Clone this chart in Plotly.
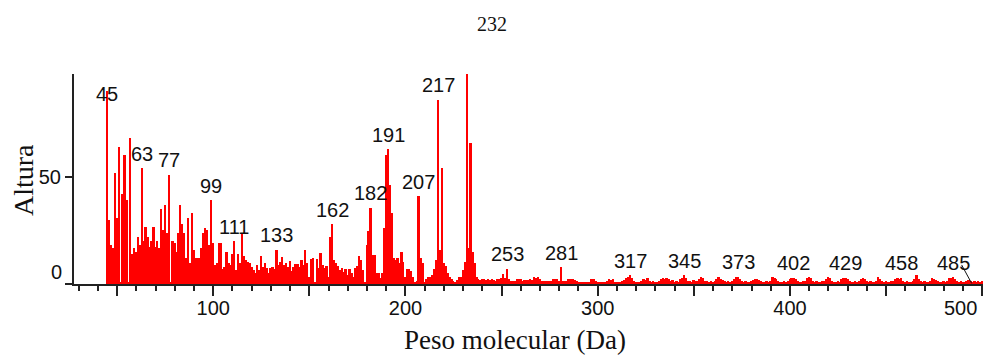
import plotly.graph_objects as go

# Mass spectrum: intensity ("Altura") per integer m/z, 45..500 Da
mz_start = 45

heights_045_099 = [
    90, 30, 18, 17, 52, 31, 64, 0.5, 42, 60,        # 45-54
    39, 0.5, 68, 14, 17, 15, 22, 18, 54, 20,        # 55-64
    26.7, 22, 17.5, 20, 26.7, 17.5, 20, 16.7, 35, 25,  # 65-74
    37, 23.6, 51, 0.5, 20, 19, 15, 24, 37, 28,      # 75-84
    24, 12, 31, 10, 33, 16, 12, 12, 12, 17,         # 85-94
    24, 26, 25, 18, 39,                             # 95-99
]
heights_100_149 = [
    19, 9, 10, 19, 19, 7, 8, 15, 10, 9,
    14, 20, 6.5, 14, 10, 24, 13, 11, 10.5, 10,
    8, 6.5, 5, 9, 6.5, 13, 8, 10, 7.3, 5,
    7.3, 8, 7, 16, 9, 10.5, 12.5, 9, 10, 8,
    10.8, 6.3, 8, 9.3, 9.3, 8, 11.3, 9, 16, 9.8,
]
heights_150_199 = [
    3.5, 11.5, 12, 0.5, 11.5, 7.3, 14.3, 9, 7.3, 8.2,
    3.5, 22, 28, 11, 9.8, 8.2, 6.6, 7.4, 5.8, 6.9,
    4.2, 6.9, 5, 3.5, 7.4, 8.2, 12.9, 11.3, 6.6, 0.5,
    18.4, 24.7, 35.5, 13.7, 13.7, 5, 5, 2.6, 5, 26,
    60, 63, 46, 33, 12, 11, 12, 10, 15, 10.5,
]
heights_200_249 = [
    3.5, 6.9, 6.9, 6.3, 3.1, 1.1, 1.5, 41, 12, 9.8,
    1.1, 2.2, 3.1, 3.5, 4.2, 6.9, 11, 86, 16, 54,
    9.8, 8.2, 5, 3.5, 2.2, 1.6, 1.1, 1.9, 3.1, 3.1,
    6.6, 10.5, 98, 17, 66, 15, 9.8, 3.5, 2.5, 2,
    2.4, 2.2, 2, 2.4, 1.8, 2.2, 2, 1.6, 2.4, 2.2,
]
heights_250_299 = [
    3, 4.6, 3, 7.2, 2.5, 1.6, 1.4, 1.6, 2.4, 2.4,
    2.2, 1.6, 2, 2, 1.8, 2.2, 2, 3.1, 2.8, 3.1,
    2.4, 1.2, 1.4, 1.2, 1.4, 1.2, 1.5, 2.4, 2.2, 2.4,
    1.6, 7.8, 1.5, 1.2, 1.6, 2.4, 2.2, 2.4, 2.0, 1.2,
    0.8, 1.0, 0.8, 1.0, 0.8, 0.9, 1.0, 2.4, 2.2, 1.2,
]
heights_300_349 = [
    0.8, 1.0, 0.8, 0.9, 1.0, 1.2, 2.4, 2.0, 2.4, 1.0,
    0.8, 0.9, 1.0, 1.2, 2.0, 3.0, 3.5, 4.2, 3.0, 1.4,
    0.8, 1.0, 0.9, 1.2, 2.4, 2.0, 2.6, 1.6, 1.1, 1.2,
    1.0, 1.1, 1.4, 2.2, 2.6, 2.4, 2.6, 2.2, 1.4, 1.9,
    1.1, 1.2, 1.1, 2.2, 3.0, 4.2, 2.6, 1.4, 1.2, 1.1,
]
heights_350_399 = [
    1.9, 1.4, 1.2, 2.2, 3.1, 2.8, 1.6, 1.2, 1.1, 1.2,
    1.1, 1.4, 2.2, 3.1, 2.4, 1.9, 1.2, 1.1, 1.2, 1.1,
    1.4, 2.2, 3.1, 3.4, 2.4, 1.2, 1.1, 1.2, 1.0, 1.1,
    1.4, 2.0, 2.3, 2.3, 1.9, 1.2, 1.0, 1.1, 1.2, 1.1,
    1.6, 3.1, 2.8, 2.2, 1.2, 1.1, 1.0, 1.2, 1.1, 1.4,
]
heights_400_449 = [
    2.2, 2.6, 3.0, 2.2, 1.2, 1.1, 1.0, 1.2, 1.6, 2.6,
    3.4, 2.6, 1.6, 1.1, 1.2, 1.0, 1.1, 1.2, 1.4, 2.4,
    3.1, 2.6, 1.4, 1.1, 1.0, 1.2, 1.1, 2.2, 2.6, 3.0,
    2.4, 1.2, 1.1, 1.0, 1.2, 1.1, 1.4, 2.2, 2.6, 2.4,
    1.4, 1.1, 1.2, 1.0, 1.1, 1.6, 3.4, 2.2, 1.4, 1.1,
]
heights_450_500 = [
    1.2, 1.0, 1.1, 1.2, 1.6, 2.2, 2.6, 2.4, 3.0, 1.6,
    1.1, 1.2, 1.0, 1.1, 1.4, 2.2, 4.2, 2.4, 1.6, 1.1,
    1.2, 1.0, 1.1, 1.4, 2.6, 2.4, 1.9, 1.2, 1.1, 1.0,
    1.2, 1.1, 1.6, 2.6, 3.0, 3.2, 2.4, 1.4, 1.1, 1.2,
    1.0, 1.1, 1.4, 1.9, 1.4, 1.1, 1.2, 1.0, 1.4, 1.1,
    1.2,
]

# Peaks annotated with their m/z
labelled_mz = [45, 63, 77, 99, 111, 133, 162, 182, 191, 207, 217,
               253, 281, 317, 345, 373, 402, 429, 458, 485]

# Axis ticks
x_tick_vals = [50, 100, 150, 200, 250, 300, 350, 400, 450, 500]
x_tick_text = ["", "100", "", "200", "", "300", "", "400", "", ""]
y_tick_vals = [0, 50]
y_tick_text = ["", "50"]

heights = (heights_045_099 + heights_100_149 + heights_150_199 + heights_200_249
           + heights_250_299 + heights_300_349 + heights_350_399 + heights_400_449
           + heights_450_500)
mz = list(range(mz_start, mz_start + len(heights)))
height_at = dict(zip(mz, heights))

SANS = "Liberation Sans, Arial, sans-serif"
SERIF = "Liberation Serif, Times New Roman, serif"
INK = "#111111"
AXIS = "#222222"

fig = go.Figure(
    go.Bar(
        x=mz,
        y=heights,
        width=1.0,
        marker=dict(color="#ff0000", line_width=0),
        hoverinfo="x+y",
    )
)

annotations = []
for m in labelled_mz:
    annotations.append(dict(
        x=m, y=height_at[m], xref="x", yref="y",
        text=str(m), showarrow=False,
        yanchor="middle", yshift=(-3 if m == 45 else 14.5),
        font=dict(family=SANS, size=20, color=INK),
    ))

# zero label of the y axis sits just above the baseline
annotations.append(dict(
    x=0, xref="paper", y=0, yref="y", text="0", showarrow=False,
    xanchor="right", yanchor="middle", xshift=-10, yshift=12,
    font=dict(family=SANS, size=20, color=INK),
))
# last x tick label, kept inside the page
annotations.append(dict(
    x=500, xref="x", y=0, yref="y", text="500", showarrow=False,
    xanchor="right", yanchor="middle", xshift=-3, yshift=-24,
    font=dict(family=SANS, size=20, color=INK),
))
# axis titles
annotations.append(dict(
    x=0, xref="paper", y=0.495, yref="paper", text="Altura", showarrow=False,
    textangle=-90, xanchor="center", yanchor="middle", xshift=-51,
    font=dict(family=SERIF, size=28, color=INK),
))
annotations.append(dict(
    x=0.485, xref="paper", y=0, yref="paper", text="Peso molecular (Da)",
    showarrow=False, xanchor="center", yanchor="middle", yshift=-56,
    font=dict(family=SERIF, size=27, color=INK),
))
# page number
annotations.append(dict(
    x=0.46, xref="paper", y=1, yref="paper", text="232", showarrow=False,
    xanchor="center", yanchor="middle", yshift=50,
    font=dict(family=SERIF, size=20, color=INK),
))

fig.update_layout(
    width=983,
    height=356,
    margin=dict(l=74, r=0, t=74, b=72, pad=0),
    paper_bgcolor="white",
    plot_bgcolor="white",
    bargap=0,
    showlegend=False,
    annotations=annotations,
    shapes=[dict(
        type="line", xref="x", yref="y",
        x0=489.3, y0=8.9, x1=494.5, y1=0.3,
        line=dict(color=INK, width=1),
    )],
    xaxis=dict(
        range=[27.6, 500.4],
        showgrid=False, zeroline=False,
        showline=True, linecolor=AXIS, linewidth=2,
        ticks="outside", ticklen=10, tickwidth=2, tickcolor=AXIS,
        ticklabelstandoff=-5,
        tickmode="array", tickvals=x_tick_vals, ticktext=x_tick_text,
        tickfont=dict(family=SANS, size=20, color=INK),
        minor=dict(ticks="outside", ticklen=5, tickwidth=2, tickcolor=AXIS,
                   tick0=0, dtick=10, showgrid=False),
    ),
    yaxis=dict(
        range=[0, 98],
        showgrid=False, zeroline=False,
        showline=True, linecolor=AXIS, linewidth=2,
        ticks="outside", ticklen=7, tickwidth=2, tickcolor=AXIS,
        tickmode="array", tickvals=y_tick_vals, ticktext=y_tick_text,
        tickfont=dict(family=SANS, size=20, color=INK),
    ),
)

fig.write_html("out.html")
